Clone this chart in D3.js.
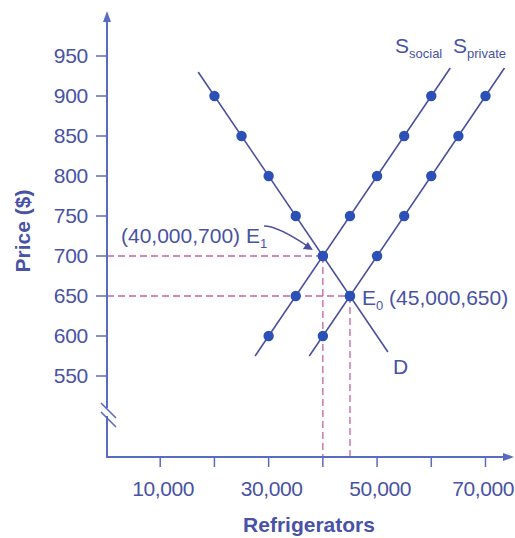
<!DOCTYPE html>
<html lang="en">
<head>
  <meta charset="UTF-8">
  <title>Refrigerators</title>
  <script src="https://d3js.org/d3.v7.min.js"></script>
  <style>
    body { margin: 0; background: #fff; }
    text { font-family: "Liberation Sans", Arial, sans-serif; fill: #4852a6; }
  </style>
</head>
<body>
  <svg id="chart" width="515" height="538"></svg>
  <script>
    // data
    const demandQ = [20000, 25000, 30000, 35000, 40000, 45000];
    const demandP = [900, 850, 800, 750, 700, 650];
    const socialQ = [30000, 35000, 40000, 45000, 50000, 55000, 60000];
    const socialP = [600, 650, 700, 750, 800, 850, 900];
    const privateQ = [40000, 45000, 50000, 55000, 60000, 65000, 70000];
    const privateP = [600, 650, 700, 750, 800, 850, 900];
    // where each line is drawn from / to (quantity, price)
    const demandEnds = [[17000, 930], [52000, 580]];
    const socialEnds = [[27500, 575], [63500, 935]];
    const privateEnds = [[37500, 575], [73500, 935]];
    const eq1 = [40000, 700];
    const eq0 = [45000, 650];
    const yTicks = [550, 600, 650, 700, 750, 800, 850, 900, 950];
    const xTicks = [10000, 20000, 30000, 40000, 50000, 60000, 70000];
    const xTickLabels = [10000, 30000, 50000, 70000];

    const svg = d3.select('#chart');
    const axisColor = '#5a6bc2';
    const lineColor = '#4c4f9e';
    const dotColor = '#2b50b6';
    const dashColor = '#c464a4';

    const x = d3.scaleLinear().domain([0, 70000]).range([106, 485.5]);
    const y = d3.scaleLinear().domain([550, 950]).range([376, 56]);
    const axisX = 107, axisY = 457;
    const fmt = d3.format(',');

    // dashed guides
    [eq1, eq0].forEach(e => {
      svg.append('line')
        .attr('x1', axisX).attr('x2', x(e[0]))
        .attr('y1', y(e[1])).attr('y2', y(e[1]))
        .attr('stroke', dashColor).attr('stroke-width', 1.3)
        .attr('stroke-dasharray', '7,4');
      svg.append('line')
        .attr('x1', x(e[0])).attr('x2', x(e[0]))
        .attr('y1', y(e[1])).attr('y2', axisY)
        .attr('stroke', dashColor).attr('stroke-width', 1.3)
        .attr('stroke-dasharray', '7,4');
    });

    // axes
    svg.append('line').attr('x1', axisX).attr('x2', axisX).attr('y1', axisY).attr('y2', 20)
      .attr('stroke', axisColor).attr('stroke-width', 2);
    svg.append('path').attr('d', `M${axisX},11 L${axisX - 4},22 L${axisX + 4},22 Z`).attr('fill', axisColor);
    svg.append('line').attr('x1', axisX - 1).attr('x2', 505).attr('y1', axisY).attr('y2', axisY)
      .attr('stroke', axisColor).attr('stroke-width', 2);
    svg.append('path').attr('d', `M514,${axisY} L503,${axisY - 4} L503,${axisY + 4} Z`).attr('fill', axisColor);

    // axis break
    svg.append('rect').attr('x', axisX - 3).attr('y', 408).attr('width', 6).attr('height', 8).attr('fill', '#fff');
    [0, 9].forEach(o => {
      svg.append('line').attr('x1', 101).attr('y1', 403 + o).attr('x2', 116).attr('y2', 418 + o)
        .attr('stroke', axisColor).attr('stroke-width', 1.6);
    });

    // y ticks
    yTicks.forEach(t => {
      svg.append('line').attr('x1', 96).attr('x2', axisX).attr('y1', y(t)).attr('y2', y(t))
        .attr('stroke', axisColor).attr('stroke-width', 1.5);
      svg.append('text').attr('x', 88).attr('y', y(t)).attr('dy', '0.35em')
        .attr('text-anchor', 'end').style('font-size', '21px').style('letter-spacing', '-0.3px').text(t);
    });
    // x ticks
    xTicks.forEach(t => {
      svg.append('line').attr('x1', x(t)).attr('x2', x(t)).attr('y1', axisY).attr('y2', axisY + 10)
        .attr('stroke', axisColor).attr('stroke-width', 1.5);
    });
    xTickLabels.forEach(t => {
      const lbl = svg.append('text').attr('y', 496)
        .attr('text-anchor', 'middle').style('font-size', '21px').style('letter-spacing', '-0.4px').text(fmt(t));
      const w = lbl.node().getComputedTextLength();
      lbl.attr('x', Math.min(x(t) + 3, 514 - w / 2));
    });

    // axis titles
    svg.append('text').attr('x', 309).attr('y', 532).attr('text-anchor', 'middle')
      .style('font-size', '21px').style('font-weight', 'bold').text('Refrigerators');
    svg.append('text').attr('transform', 'translate(30,231) rotate(-90)').attr('text-anchor', 'middle')
      .style('font-size', '21px').style('font-weight', 'bold').text('Price ($)');

    // curves
    const line = d3.line().x(d => x(d[0])).y(d => y(d[1]));
    [demandEnds, socialEnds, privateEnds].forEach(seg => {
      svg.append('path').attr('d', line(seg)).attr('fill', 'none')
        .attr('stroke', lineColor).attr('stroke-width', 1.6);
    });

    // dots
    const pts = [];
    demandQ.forEach((q, i) => pts.push([q, demandP[i]]));
    socialQ.forEach((q, i) => pts.push([q, socialP[i]]));
    privateQ.forEach((q, i) => pts.push([q, privateP[i]]));
    svg.selectAll('circle.pt').data(pts).enter().append('circle')
      .attr('class', 'pt')
      .attr('cx', d => x(d[0])).attr('cy', d => y(d[1])).attr('r', 5.2)
      .attr('fill', dotColor);

    // labels
    const lab = svg.append('text').attr('x', 395).attr('y', 53).style('font-size', '21px');
    lab.append('tspan').text('S');
    lab.append('tspan').attr('dy', 5).style('font-size', '13px').text('social');
    const lab2 = svg.append('text').attr('x', 453).attr('y', 53).style('font-size', '21px');
    lab2.append('tspan').text('S');
    lab2.append('tspan').attr('dy', 5).style('font-size', '13px').text('private');

    svg.append('text').attr('x', 393).attr('y', 374).style('font-size', '21px').text('D');

    const e1 = svg.append('text').attr('x', 121).attr('y', 243).style('font-size', '21px');
    e1.append('tspan').text('(40,000,700) E');
    e1.append('tspan').attr('dy', 5).style('font-size', '13px').text('1');

    const e0 = svg.append('text').attr('x', 362).attr('y', 305).style('font-size', '21px');
    e0.append('tspan').text('E');
    e0.append('tspan').attr('dy', 5).style('font-size', '13px').text('0');
    e0.append('tspan').attr('dy', -5).text(' (45,000,650)');

    // arrow to E1
    const ax = x(eq1[0]) - 10, ay = y(eq1[1]) - 6;
    svg.append('path').attr('d', `M264,226 Q278,226 ${ax - 4},${ay - 3}`)
      .attr('fill', 'none').attr('stroke', lineColor).attr('stroke-width', 1.4);
    svg.append('path').attr('d', `M${ax},${ay} L${ax - 10},${ay - 1} L${ax - 5},${ay - 8} Z`)
      .attr('fill', lineColor);
  </script>
</body>
</html>
